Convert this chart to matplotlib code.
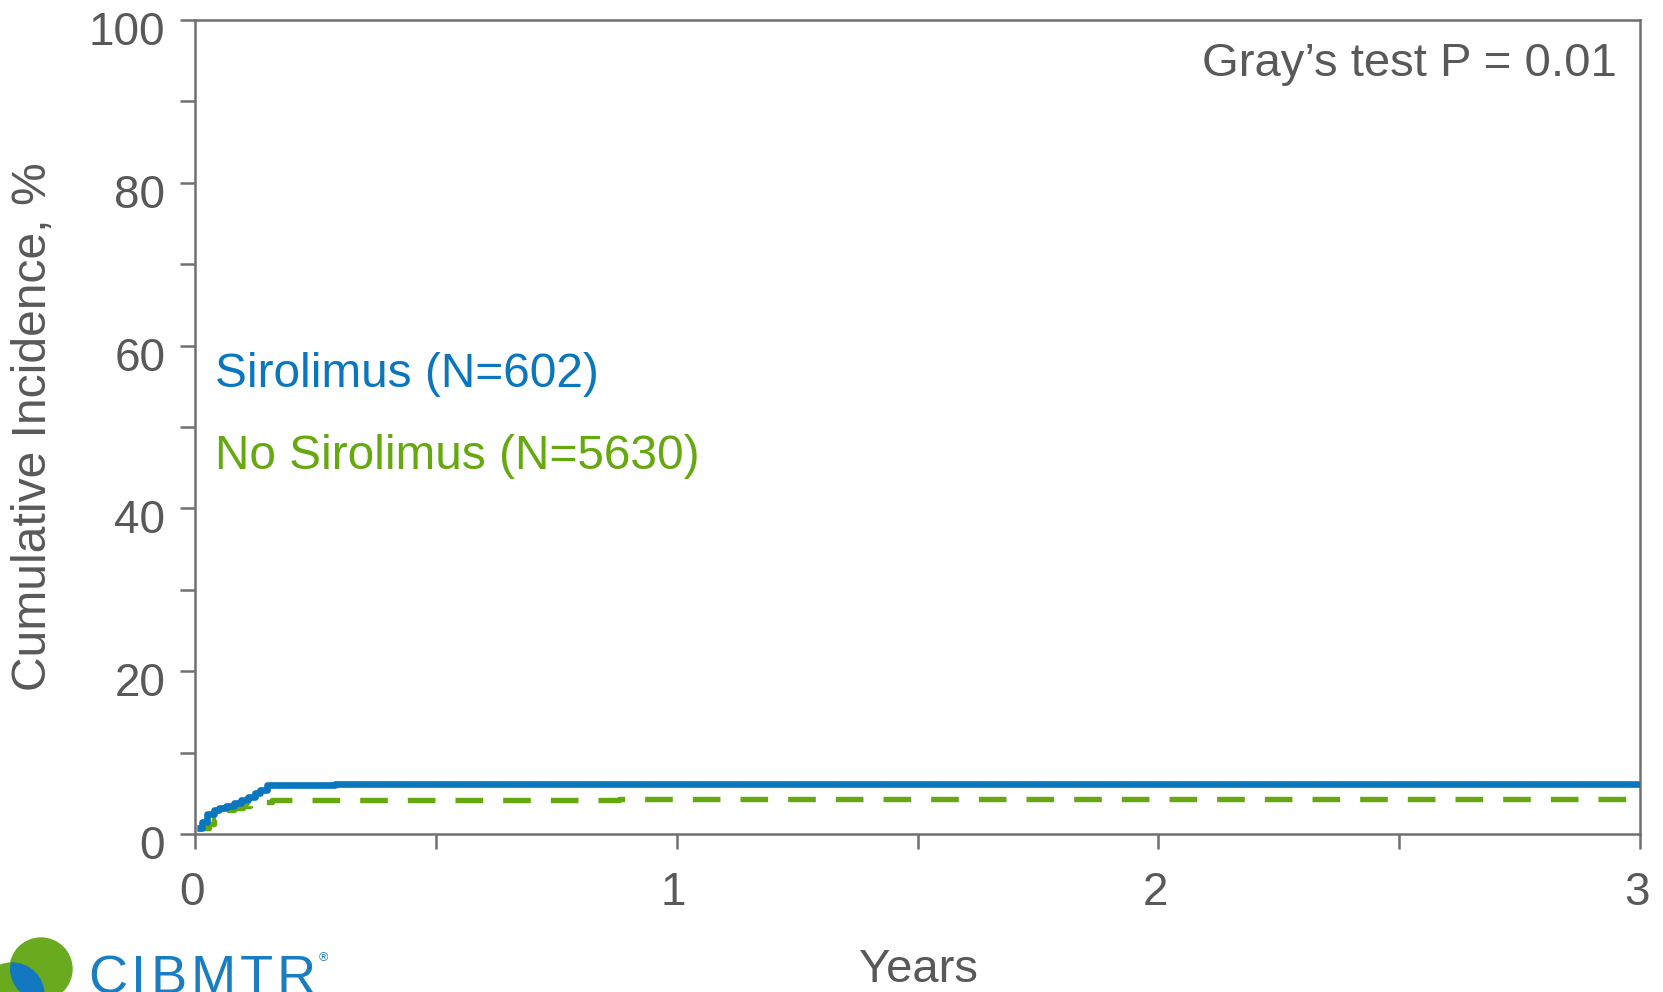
import numpy as np
import matplotlib
matplotlib.use("Agg")
import matplotlib.pyplot as plt
from matplotlib.patches import Circle
from matplotlib.transforms import IdentityTransform, ScaledTranslation

plt.rcParams['font.family'] = ['Liberation Sans', 'DejaVu Sans']

# cumulative incidence (%) by years, step curves
siro_years = [0.0, 0.005, 0.015, 0.025, 0.04, 0.05, 0.065, 0.08, 0.095,
              0.11, 0.125, 0.135, 0.15, 0.29, 3.0]
siro_ci = [0.0, 0.7, 1.5, 2.4, 2.9, 3.2, 3.5, 3.8, 4.2,
           4.6, 5.0, 5.4, 6.0, 6.2, 6.2]
nosiro_years = [0.0, 0.005, 0.03, 0.04, 0.05, 0.065, 0.08, 0.1, 0.115,
                0.13, 0.16, 0.88, 3.0]
nosiro_ci = [0.0, 0.7, 1.2, 1.8, 2.5, 2.9, 3.2, 3.5, 3.6,
             3.9, 4.2, 4.3, 4.3]

siro_label = "Sirolimus (N=602)"
nosiro_label = "No Sirolimus (N=5630)"
pval_text = "Gray\u2019s test P = 0.01"

blue = "#0a76bd"
green = "#66a80f"
grey = "#595959"
axgrey = "#707070"

W, H = 1663, 992
fig = plt.figure(figsize=(W / 100, H / 100), dpi=100)
ax = fig.add_axes([195 / W, 1 - 834 / H, (1640 - 195) / W, (834 - 20) / H])

ax.plot(siro_years[1:], siro_ci[1:], drawstyle="steps-post", color=blue,
        lw=4.8, solid_capstyle="butt", solid_joinstyle="round", zorder=3)
ax.plot(nosiro_years[1:], nosiro_ci[1:], drawstyle="steps-post", color=green,
        lw=3.9, linestyle=(0, (5.1, 3.7)), zorder=2)

ax.set_xlim(0, 3)
ax.set_ylim(0, 100)
ax.set_xticks([0, 1, 2, 3])
ax.set_xticks([0.5, 1.5, 2.5], minor=True)
ax.set_yticks(np.arange(0, 101, 20))
ax.set_yticks(np.arange(10, 100, 20), minor=True)

for s in ax.spines.values():
    s.set_color(axgrey)
    s.set_linewidth(1.8)
ax.tick_params(which="both", direction="out", length=10.5, width=1.8,
               color=axgrey, labelcolor=grey, labelsize=33)
ax.tick_params(axis="y", which="major", pad=11)
ax.tick_params(axis="x", which="major", pad=16)

# y tick labels sit a little below their ticks
shift = ScaledTranslation(0, -0.08, fig.dpi_scale_trans)
for lab in ax.get_yticklabels():
    lab.set_transform(lab.get_transform() + shift)
shift_x = ScaledTranslation(-0.03, 0, fig.dpi_scale_trans)
for lab in ax.get_xticklabels():
    lab.set_transform(lab.get_transform() + shift_x)

fig.text(34 / W, 1 - 427 / H, "Cumulative Incidence, %", rotation=90,
         fontsize=34.6, color=grey, ha="center", va="center")
fig.text(918 / W, 1 - 970 / H, "Years", fontsize=34, color=grey,
         ha="center", va="center")

ax.text(0.984, 0.973, pval_text, transform=ax.transAxes, ha="right", va="top",
        fontsize=34, color=grey)
ax.text(0.042, 56.5, siro_label, ha="left", va="center", fontsize=34.4, color=blue)
ax.text(0.042, 46.4, nosiro_label, ha="left", va="center", fontsize=34.4, color=green)

# logo in the lower left corner, pixel coordinates
c1 = Circle((41, H - 969), 31, transform=IdentityTransform(), color="#6aaa1e")
c2 = Circle((12, H - 995), 32, transform=IdentityTransform(), color="#6aaa1e")
lens = Circle((12, H - 995), 32, transform=IdentityTransform(), color="#1478c0")
for c in (c1, c2, lens):
    fig.add_artist(c)
lens.set_clip_path(c1)

# spaced-out logo lettering
renderer = fig.canvas.get_renderer()
x = 88
for ch in "CIBMTR":
    t = fig.text(x / W, 1 - 954 / H, ch, fontsize=39, color="#1a7dc2",
                 ha="left", va="top")
    x += t.get_window_extent(renderer).width + 4
fig.text((x - 1) / W, 1 - 952 / H, "\u00ae", fontsize=9, color="#1a7dc2",
         ha="left", va="top")

fig.savefig("out.png", dpi=100)
